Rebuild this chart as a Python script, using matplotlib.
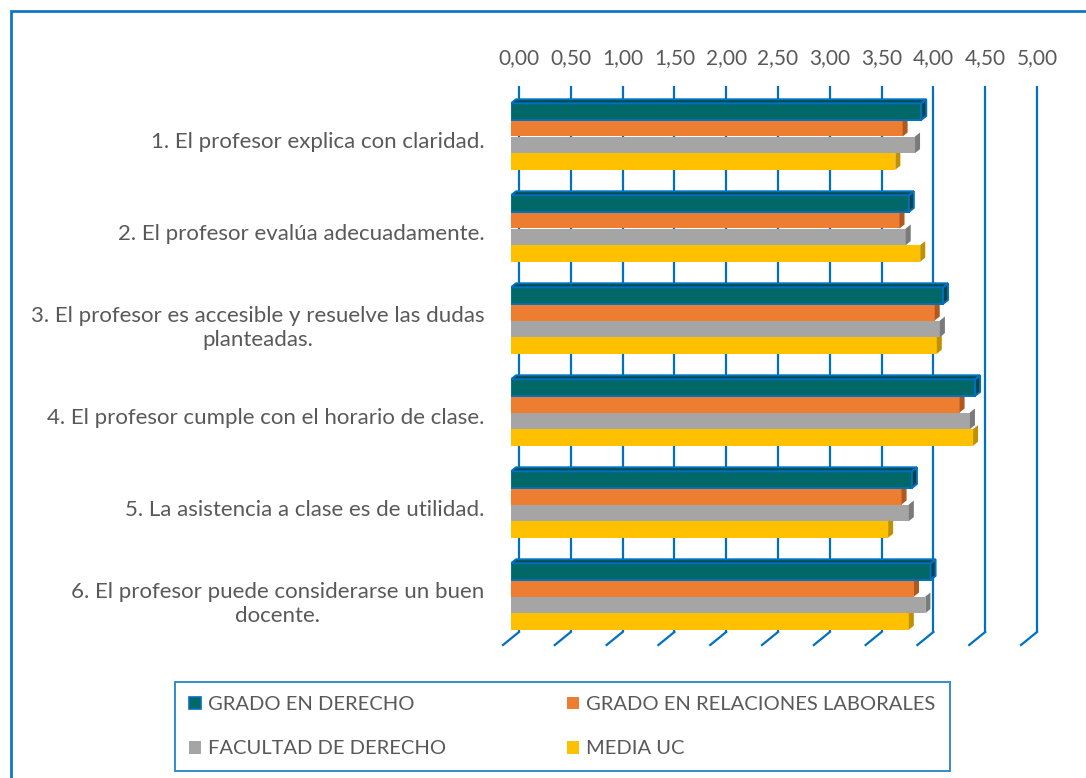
import numpy as np
import matplotlib.pyplot as plt
from matplotlib.patches import Polygon, Patch, Rectangle
from matplotlib.transforms import Affine2D

plt.rcParams['font.family'] = ['Lato', 'DejaVu Sans']

preguntas = [
    "1. El profesor explica con claridad.",
    "2. El profesor evalúa adecuadamente.",
    "3. El profesor es accesible y resuelve las dudas\nplanteadas.",
    "4. El profesor cumple con el horario de clase.",
    "5. La asistencia a clase es de utilidad.",
    "6. El profesor puede considerarse un buen\ndocente.",
]
series = ["GRADO EN DERECHO", "GRADO EN RELACIONES LABORALES",
          "FACULTAD DE DERECHO", "MEDIA UC"]
grado_derecho = [3.96, 3.84, 4.17, 4.48, 3.87, 4.05]
grado_rrll = [3.78, 3.75, 4.09, 4.33, 3.77, 3.89]
facultad = [3.90, 3.81, 4.14, 4.43, 3.84, 4.00]
media_uc = [3.71, 3.95, 4.11, 4.46, 3.64, 3.84]
valores = [grado_derecho, grado_rrll, facultad, media_uc]
ticks = np.arange(0, 5.01, 0.5)

colores = ['#026767', '#ED7D31', '#A5A5A5', '#FFC000']
laterales = ['#014244', '#B0591F', '#7A7A7A', '#BF9000']
azul = '#0070C0'
gris_texto = '#595959'

W, H = 1086, 778
fig = plt.figure(figsize=(W / 100, H / 100), dpi=100)
ax = fig.add_axes([511 / W, 1 - 642.5 / H, 518 / W, 552 / H])
ax.set_xlim(0, 5)
ax.set_ylim(5.5, -0.5)
for s in ax.spines.values():
    s.set_visible(False)

# pixel -> data helpers (axes is 518 px wide for 5 units, 552 px tall for 6)
sx, sy = 518 / 5, 552 / 6
dx, dy = 5 / sx, -4 / sy          # bar depth
wx = 8 / sx                       # back wall shift
h = 16.6 / sy
y = np.arange(len(preguntas))

# gridlines on the back wall + floor
g_top, g_bot = -0.5 - 4.5 / sy, -0.5 + 541.5 / sy
for t in ticks:
    ax.plot([t + wx, t + wx], [g_top, g_bot], color=azul, lw=1.6, zorder=1,
            clip_on=False, solid_capstyle='butt')
    ax.plot([t + wx, t + wx - 16 / sx], [g_bot, g_bot + 13 / sy], color=azul,
            lw=1.6, zorder=1, clip_on=False)

# pseudo-3D bars, bottom series drawn first
for k in range(3, -1, -1):
    yc = y + (k - 1.5) * h
    z = 10 - k
    ec = azul if k == 0 else 'none'
    lw = 1.4 if k == 0 else 0
    ax.barh(yc, valores[k], height=h, color=colores[k], edgecolor=ec,
            linewidth=lw, zorder=z)
    for v, c in zip(valores[k], yc):
        top, bot = c - h / 2, c + h / 2
        side = Polygon([(v, top), (v, bot), (v + dx, bot + dy), (v + dx, top + dy)],
                       closed=True, facecolor=laterales[k], edgecolor=ec,
                       linewidth=lw, zorder=z)
        ax.add_patch(side)
        if k == 0:
            tapa = Polygon([(0, top), (v, top), (v + dx, top + dy), (dx, top + dy)],
                           closed=True, facecolor='#014C4E', edgecolor=ec,
                           linewidth=lw, zorder=z)
            ax.add_patch(tapa)

ax.set_yticks(y)
ax.set_yticklabels(preguntas, fontsize=16, color=gris_texto,
                   multialignment='center', linespacing=1.2)
ax.tick_params(axis='y', length=0, pad=19)
for lab in ax.get_yticklabels():
    lab.set_transform(lab.get_transform() + Affine2D().translate(0, -4))

ax.xaxis.tick_top()
ax.set_xticks(ticks)
ax.set_xticklabels([f"{t:.2f}".replace('.', ',') for t in ticks],
                   fontsize=15, color=gris_texto)
ax.tick_params(axis='x', length=0, pad=16)
for lab in ax.get_xticklabels():
    lab.set_transform(lab.get_transform() + Affine2D().translate(8, 0))

handles = [Patch(facecolor=colores[0], edgecolor=azul, linewidth=1.2),
           Patch(facecolor=colores[2], edgecolor='none'),
           Patch(facecolor=colores[1], edgecolor='none'),
           Patch(facecolor=colores[3], edgecolor='none')]
labels = [series[0], series[2], series[1], series[3]]
leg = fig.legend(handles, labels, ncol=2, loc='upper left',
                 bbox_to_anchor=(175 / W, 1 - 682 / H),
                 fontsize=14.5, frameon=True, fancybox=False,
                 handlelength=0.6, handleheight=0.6, handletextpad=0.35,
                 borderaxespad=0, borderpad=0.7, labelspacing=1.35,
                 columnspacing=6.0, labelcolor=gris_texto)
leg.get_frame().set_edgecolor(azul)
leg.get_frame().set_linewidth(1.4)

fig.add_artist(Rectangle((11 / W, -0.05), 1.1, 1 - 11 / H + 0.05,
                         transform=fig.transFigure, fill=False,
                         edgecolor='#1275C6', linewidth=2))

fig.savefig('out.png', dpi=100)
